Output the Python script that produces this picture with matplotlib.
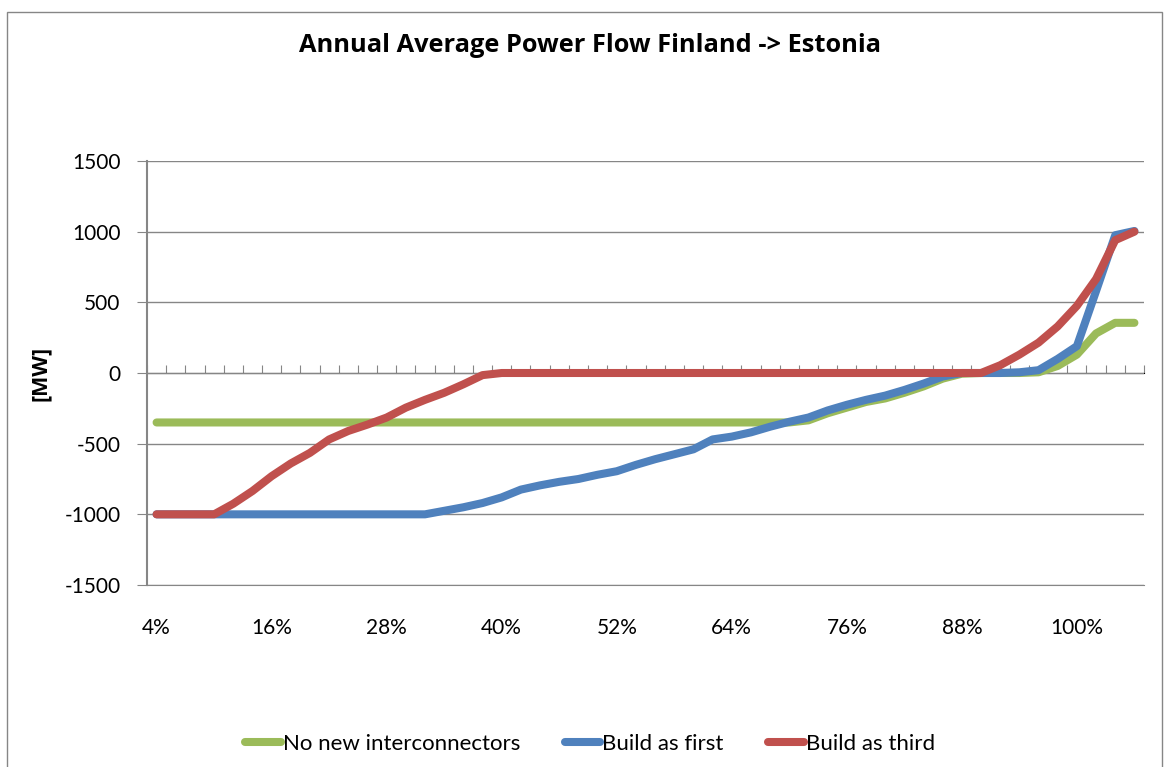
import numpy as np
import matplotlib.pyplot as plt
from matplotlib.patches import Rectangle

plt.rcParams['font.family'] = ['Lato', 'DejaVu Sans']
plt.rcParams['axes.unicode_minus'] = False

# x categories: 4% .. 106% in 2% steps
shares = list(range(4, 108, 2))
labels = [f"{s}%" for s in shares]

no_new = [-350] * 34 + [-335, -285, -245, -205, -180, -140, -95, -40, -5,
                        0, 0, 0, 5, 50, 130, 280, 355, 355]
build_first = [-1000] * 15 + [-975, -950, -920, -880, -825, -795, -770, -750,
                              -720, -695, -650, -610, -575, -540, -470, -450,
                              -420, -380, -345, -315, -265, -225, -190, -160,
                              -120, -75, -25, 0, 0, 0, 5, 20, 100, 190, 580,
                              975, 1005]
build_third = [-1000] * 4 + [-925, -835, -730, -640, -565, -470, -410, -365,
                             -315, -245, -190, -140, -80, -15] + [0] * 26 + \
              [55, 130, 215, 330, 475, 665, 940, 1000]

series = [("No new interconnectors", no_new, "#9BBB59"),
          ("Build as first", build_first, "#4F81BD"),
          ("Build as third", build_third, "#C0504D")]

W, H = 1166, 767
fig = plt.figure(figsize=(W / 100, H / 100), dpi=100)
ax = fig.add_axes([147 / W, 1 - 585 / H, (1144 - 147) / W, (585 - 161) / H])

grey = "#868686"
x = np.arange(len(shares))
for name, vals, col in series:
    ax.plot(x, vals, color=col, lw=5.8, solid_capstyle='round',
            solid_joinstyle='round', label=name)

ax.set_xlim(-0.5, len(shares) - 0.5)
ax.set_ylim(-1500, 1500)
ax.set_yticks(range(-1500, 1501, 500))
ax.yaxis.grid(True, color=grey, lw=1)
ax.set_axisbelow(True)
for s in ['top', 'right']:
    ax.spines[s].set_visible(False)
ax.spines['left'].set_color(grey)
ax.spines['left'].set_linewidth(1.5)
ax.spines['bottom'].set_color(grey)
ax.tick_params(axis='y', direction='out', length=7, color=grey, labelsize=15, pad=12)

# category labels every 6th point, at bottom
ax.set_xticks(x[::6])
ax.set_xticklabels(labels[::6])
ax.tick_params(axis='x', length=0, labelsize=15, pad=24)

# horizontal axis line at 0 with tick marks between categories
sec = ax.secondary_xaxis(0.5)
sec.set_xticks(np.arange(-0.5, len(shares), 1.0))
sec.set_xticklabels([])
sec.tick_params(axis='x', direction='out', length=6, color=grey)
sec.spines['bottom'].set_color(grey)
sec.spines['bottom'].set_linewidth(1.5)

bold = ['Open Sans', 'DejaVu Sans']
fig.text(590 / W, 1 - 45 / H, "Annual Average Power Flow Finland -> Estonia",
         ha='center', va='center', fontsize=18.3, fontweight='bold', family=bold)
fig.text(40 / W, 1 - 373 / H, "[MW]", rotation=90, ha='center', va='center',
         fontsize=15.5, fontweight='bold', family=bold)

fig.legend(loc='center', bbox_to_anchor=(590 / W, 1 - 744 / H), ncol=3,
           frameon=False, fontsize=16, handlelength=1.6, handletextpad=0.1,
           columnspacing=2.0)

fig.add_artist(Rectangle((7 / W, -0.01), (1162 - 7) / W, 1 - 12 / H + 0.01,
                         transform=fig.transFigure, fill=False,
                         edgecolor=grey, lw=1))

fig.savefig("out.png", dpi=100)
